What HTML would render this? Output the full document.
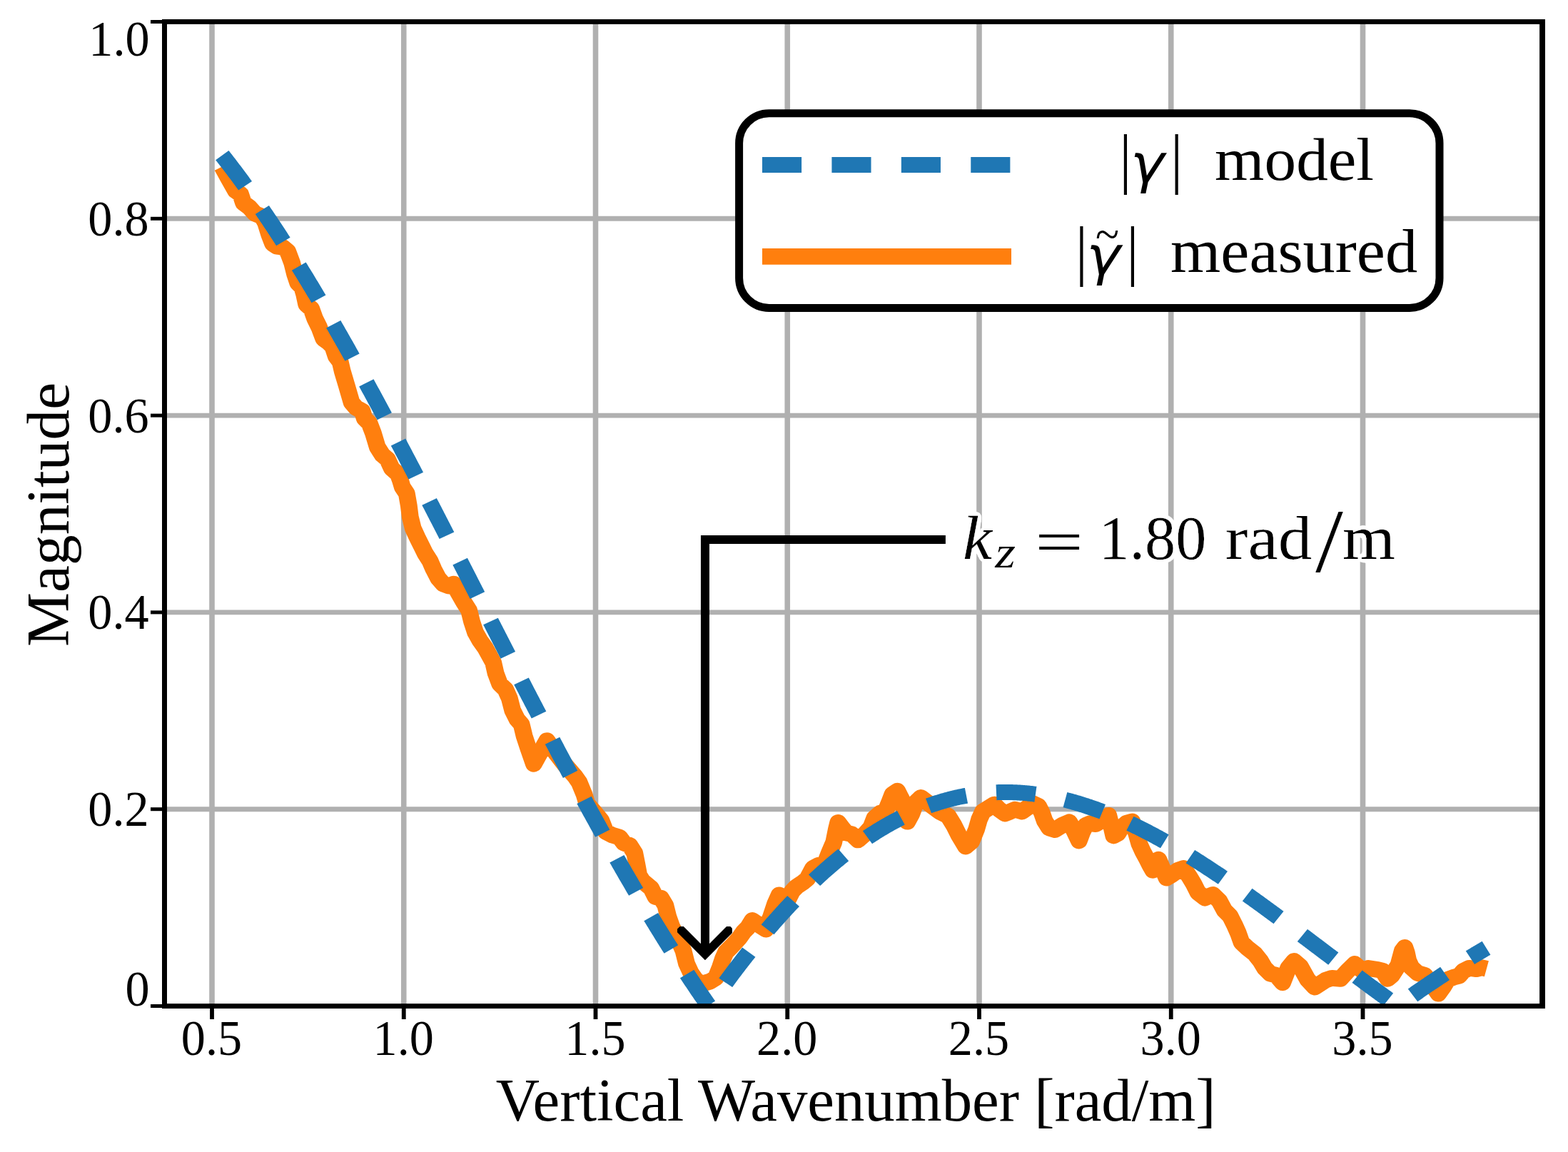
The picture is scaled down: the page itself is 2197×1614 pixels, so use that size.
<!DOCTYPE html>
<html lang="en"><head><meta charset="utf-8"><title>Coherence magnitude vs vertical wavenumber</title>
<style>
html,body{margin:0;padding:0;background:#fff;}
body{width:2197px;height:1614px;overflow:hidden;}
svg{display:block;}
text{font-family:"Liberation Serif","DejaVu Serif",serif;fill:#000;}
.it{font-style:italic;}
.gm{font-family:"DejaVu Sans","Liberation Sans",sans-serif;font-style:oblique;}
</style></head><body>
<svg width="2197" height="1614" viewBox="0 0 2197 1614">
<rect x="0" y="0" width="2197" height="1614" fill="#ffffff"/>
<defs><filter id="halo" x="-5%" y="-30%" width="110%" height="160%"><feGaussianBlur in="SourceAlpha" stdDeviation="3.4" result="b"/><feComponentTransfer in="b" result="t"><feFuncA type="linear" slope="60" intercept="-1.5"/></feComponentTransfer><feFlood flood-color="#ffffff" result="w"/><feComposite in="w" in2="t" operator="in" result="h"/><feMerge><feMergeNode in="h"/><feMergeNode in="SourceGraphic"/></feMerge></filter><clipPath id="axclip"><rect x="230.5" y="30.5" width="1930.5" height="1379"/></clipPath></defs>
<g id="grid" stroke="#b0b0b0" fill="none">
<line x1="297" y1="30.5" x2="297" y2="1409.5" stroke-width="7.6"/>
<line x1="565.75" y1="30.5" x2="565.75" y2="1409.5" stroke-width="7.6"/>
<line x1="834.5" y1="30.5" x2="834.5" y2="1409.5" stroke-width="7.6"/>
<line x1="1103.25" y1="30.5" x2="1103.25" y2="1409.5" stroke-width="7.6"/>
<line x1="1372" y1="30.5" x2="1372" y2="1409.5" stroke-width="7.6"/>
<line x1="1640.75" y1="30.5" x2="1640.75" y2="1409.5" stroke-width="7.6"/>
<line x1="1909.5" y1="30.5" x2="1909.5" y2="1409.5" stroke-width="7.6"/>
<line x1="230.5" y1="1133.7" x2="2161" y2="1133.7" stroke-width="6.9"/>
<line x1="230.5" y1="857.9" x2="2161" y2="857.9" stroke-width="6.9"/>
<line x1="230.5" y1="582.1" x2="2161" y2="582.1" stroke-width="6.9"/>
<line x1="230.5" y1="306.3" x2="2161" y2="306.3" stroke-width="6.9"/>
</g>
<g id="curves" clip-path="url(#axclip)" fill="none">
<g transform="scale(1.0434 1)">
<polyline id="measured" points="298.26,233.5 307.65,251.2 316.37,267.2 323.08,272.2 326.91,284.2 334.58,290.2 342.25,299.2 351.83,303.2 356.62,312.3 361.41,328.3 366.21,341.3 371.96,345.3 379.62,346.3 386.43,352.3 392.18,368.3 396.01,384.4 399.85,396.4 405.6,402.4 408.47,412.4 411.35,426.4 418.06,432.4 422.85,446.4 428.6,458.5 434.35,474.5 441.06,479.5 446.81,485.5 451.12,499 456.87,507 459.75,520 465.5,540.1 472.21,564.1 477.96,571.1 486.58,576.1 489.46,586.1 496.17,593.2 500.96,606.2 506.71,626.2 513.42,637.2 520.22,643.2 525.97,656.2 534.6,664.3 537.47,672.3 540.35,682.3 546.1,691.3 548.97,708.3 550.89,724.3 554.72,740.4 560.48,753.4 567.18,767.4 570.73,775 577.44,786 582.23,797.5 588.53,810.07 595.25,818.08 602.93,821.08 609.26,818.08 615.4,830.1 622.51,843.11 629.8,855.13 633.64,871.15 638.44,886.17 644.19,896.79 651.87,908.2 662.43,928.23 665.69,943.25 671.07,958.27 678.74,965.88 684.12,978.3 688.34,995.32 694.48,1007.94 700.24,1014.75 704.08,1031.37 709.46,1048.39 716.75,1070.22 734.41,1037.58 747.47,1056.48 759.18,1072.1 772.04,1087.52 777.8,1096.13 784.51,1113.15 788.16,1125.77 798.53,1138.19 807.16,1149.2 813.31,1165.23 822.52,1170.23 832.12,1173.24 837.87,1181.25 845.55,1184.25 852.27,1195.27 855.15,1210.29 858.03,1226.31 862.83,1234.32 874.34,1244.33 880.1,1256.35 887.78,1258.35 893.54,1268.37 897.38,1284.39 902.17,1298.41 910.48,1315 917.67,1332 921.99,1350 927.74,1363 934.45,1373 942.11,1378.5 953.61,1375 961.28,1370 967.03,1355 970.86,1343 974.7,1334 982.4,1325.98 992.95,1313.96 998.71,1305.35 1004.47,1299.34 1010.23,1289.53 1019.83,1296.34 1028.46,1302.14 1035.18,1284.32 1040.94,1266.29 1046.32,1253.88 1052.46,1258.28 1057.26,1262.29 1063.97,1248.27 1069.73,1242.26 1078.37,1236.25 1084.13,1231.25 1091.81,1216.23 1099.48,1212.22 1108.12,1209.22 1113.88,1194.2 1119.64,1180.18 1123.09,1162.15 1125.4,1152.34 1131.15,1160.15 1136.91,1167.16 1143.63,1168.56 1152.27,1176.97 1161.86,1168.16 1169.54,1159.15 1174.34,1146.13 1182.02,1139.12 1188.74,1138.12 1193.54,1126.1 1198.33,1113.09 1205.05,1108.28 1210.81,1120.1 1214.65,1136.12 1218.49,1151.14 1224.25,1140.12 1230,1124.1 1236.72,1117.29 1250.16,1128.11 1261.67,1137.12 1273.19,1143.13 1280.87,1156.14 1287.59,1170.16 1293.35,1180.18 1296.74,1186.01 1304.42,1179.2 1311.13,1162.18 1314.97,1148.16 1319.77,1137.15 1327.45,1132.14 1335.13,1127.13 1341.85,1134.14 1349.52,1139.95 1356.24,1137.15 1362.96,1134.14 1372.56,1136.95 1380.23,1131.14 1387.91,1126.13 1394.63,1129.54 1398.85,1138.15 1402.88,1150.16 1409.03,1160.18 1416.7,1162.58 1426.3,1156.17 1435.9,1151.77 1442.62,1164.18 1448.95,1178 1453.17,1166.19 1457.97,1156.17 1463.73,1153.77 1471.41,1154.57 1480.04,1149.16 1488.68,1142.35 1492.52,1158.17 1495.4,1170.99 1501.16,1167.59 1505.96,1159.58 1512.67,1153.17 1520.35,1150.96 1526.11,1168.19 1529.95,1182.21 1534.75,1193.22 1540.51,1204.24 1544.35,1212.25 1548.18,1219.26 1552.02,1210.25 1555.86,1204.24 1561.62,1218.26 1566.42,1230.07 1574.1,1225.27 1581.77,1219.26 1589.45,1216.45 1597.13,1228.27 1602.89,1238.28 1608.65,1250.3 1618.24,1258.11 1624,1255.31 1628.8,1253.5 1637.44,1262.32 1644.16,1275.33 1651.83,1283.35 1657.59,1295.36 1662.77,1307.38 1667.19,1320.4 1674.29,1327.41 1684.93,1336.28 1692.6,1346.29 1698.36,1356.31 1706.04,1364.32 1713.72,1366.32 1722.35,1376.74 1730.03,1356.31 1737.71,1346.5 1746.35,1354.31 1755.94,1372.33 1765.54,1383.15 1779.94,1373.33 1788.58,1370.33 1800.09,1371.33 1809.69,1360.31 1819.29,1350.5 1829.84,1360.31 1837.52,1356.51 1850,1358.51 1856.71,1360.31 1863.43,1371.33 1869.19,1366.32 1877.83,1352.3 1883.01,1332.28 1886.47,1327.47 1888.77,1334.28 1891.26,1346.29 1895.49,1355.71 1903.74,1363.32 1913.34,1366.32 1921.02,1376.34 1931.57,1392.16 1938.29,1382.34 1944.05,1372.33 1951.73,1369.33 1959.4,1367.32 1965.16,1360.31 1972.84,1356.31 1982.44,1357.71 1990.12,1355.71 1996.26,1357.31" stroke="#ff7f0e" stroke-width="22.8" stroke-linejoin="round" stroke-linecap="butt"/>
<polyline id="model" points="298.33,217.54 299.74,219.41 301.16,221.29 302.57,223.18 303.99,225.07 305.4,226.98 306.82,228.89 308.23,230.81 309.65,232.73 311.06,234.67 312.47,236.61 313.89,238.56 315.3,240.52 316.72,242.49 318.13,244.46 319.55,246.45 320.96,248.43 322.38,250.43 323.79,252.44 325.21,254.45 326.62,256.47 328.04,258.5 329.45,260.53 330.87,262.57 332.28,264.62 333.69,266.68 335.11,268.74 336.52,270.82 337.94,272.89 339.35,274.98 340.77,277.08 342.18,279.18 343.6,281.28 345.01,283.4 346.43,285.52 347.84,287.65 349.26,289.79 350.67,291.93 352.08,294.08 353.5,296.24 354.91,298.41 356.33,300.58 357.74,302.76 359.16,304.94 360.57,307.13 361.99,309.33 363.4,311.54 364.82,313.75 366.23,315.97 367.65,318.2 369.06,320.43 370.48,322.67 371.89,324.92 373.3,327.17 374.72,329.43 376.13,331.69 377.55,333.97 378.96,336.25 380.38,338.53 381.79,340.82 383.21,343.12 384.62,345.42 386.04,347.74 387.45,350.05 388.87,352.38 390.28,354.71 391.69,357.04 393.11,359.38 394.52,361.73 395.94,364.09 397.35,366.45 398.77,368.81 400.18,371.18 401.6,373.56 403.01,375.95 404.43,378.34 405.84,380.73 407.26,383.13 408.67,385.54 410.09,387.95 411.5,390.37 412.91,392.8 414.33,395.23 415.74,397.66 417.16,400.11 418.57,402.55 419.99,405.01 421.4,407.46 422.82,409.93 424.23,412.4 425.65,414.87 427.06,417.35 428.48,419.84 429.89,422.33 431.3,424.82 432.72,427.33 434.13,429.83 435.55,432.34 436.96,434.86 438.38,437.38 439.79,439.91 441.21,442.44 442.62,444.98 444.04,447.52 445.45,450.07 446.87,452.62 448.28,455.18 449.7,457.74 451.11,460.3 452.52,462.88 453.94,465.45 455.35,468.03 456.77,470.62 458.18,473.21 459.6,475.8 461.01,478.4 462.43,481.01 463.84,483.61 465.26,486.23 466.67,488.84 468.09,491.47 469.5,494.09 470.91,496.72 472.33,499.36 473.74,501.99 475.16,504.64 476.57,507.29 477.99,509.94 479.4,512.59 480.82,515.25 482.23,517.92 483.65,520.58 485.06,523.26 486.48,525.93 487.89,528.61 489.31,531.29 490.72,533.98 492.13,536.67 493.55,539.37 494.96,542.07 496.38,544.77 497.79,547.47 499.21,550.18 500.62,552.9 502.04,555.61 503.45,558.33 504.87,561.06 506.28,563.79 507.7,566.52 509.11,569.25 510.52,571.99 511.94,574.73 513.35,577.47 514.77,580.22 516.18,582.97 517.6,585.72 519.01,588.48 520.43,591.24 521.84,594 523.26,596.77 524.67,599.54 526.09,602.31 527.5,605.08 528.92,607.86 530.33,610.64 531.74,613.43 533.16,616.21 534.57,619 535.99,621.79 537.4,624.59 538.82,627.38 540.23,630.18 541.65,632.99 543.06,635.79 544.48,638.6 545.89,641.41 547.31,644.22 548.72,647.03 550.13,649.85 551.55,652.67 552.96,655.49 554.38,658.31 555.79,661.14 557.21,663.97 558.62,666.8 560.04,669.63 561.45,672.46 562.87,675.3 564.28,678.14 565.7,680.98 567.11,683.82 568.53,686.66 569.94,689.51 571.35,692.35 572.77,695.2 574.18,698.05 575.6,700.91 577.01,703.76 578.43,706.62 579.84,709.47 581.26,712.33 582.67,715.19 584.09,718.05 585.5,720.92 586.92,723.78 588.33,726.65 589.74,729.52 591.16,732.38 592.57,735.25 593.99,738.12 595.4,741 596.82,743.87 598.23,746.74 599.65,749.62 601.06,752.5 602.48,755.37 603.89,758.25 605.31,761.13 606.72,764.01 608.14,766.89 609.55,769.78 610.96,772.66 612.38,775.54 613.79,778.43 615.21,781.31 616.62,784.2 618.04,787.08 619.45,789.97 620.87,792.86 622.28,795.74 623.7,798.63 625.11,801.52 626.53,804.41 627.94,807.3 629.35,810.19 630.77,813.08 632.18,815.97 633.6,818.86 635.01,821.75 636.43,824.64 637.84,827.53 639.26,830.42 640.67,833.31 642.09,836.2 643.5,839.09 644.92,841.98 646.33,844.87 647.75,847.76 649.16,850.65 650.57,853.54 651.99,856.43 653.4,859.32 654.82,862.21 656.23,865.1 657.65,867.98 659.06,870.87 660.48,873.76 661.89,876.65 663.31,879.53 664.72,882.42 666.14,885.3 667.55,888.19 668.96,891.07 670.38,893.95 671.79,896.83 673.21,899.71 674.62,902.6 676.04,905.47 677.45,908.35 678.87,911.23 680.28,914.11 681.7,916.98 683.11,919.86 684.53,922.73 685.94,925.6 687.36,928.47 688.77,931.34 690.18,934.21 691.6,937.08 693.01,939.95 694.43,942.81 695.84,945.67 697.26,948.54 698.67,951.4 700.09,954.26 701.5,957.11 702.92,959.97 704.33,962.82 705.75,965.68 707.16,968.53 708.57,971.38 709.99,974.23 711.4,977.07 712.82,979.92 714.23,982.76 715.65,985.6 717.06,988.44 718.48,991.27 719.89,994.11 721.31,996.94 722.72,999.77 724.14,1002.6 725.55,1005.43 726.97,1008.25 728.38,1011.08 729.79,1013.9 731.21,1016.72 732.62,1019.53 734.04,1022.34 735.45,1025.16 736.87,1027.97 738.28,1030.77 739.7,1033.58 741.11,1036.38 742.53,1039.18 743.94,1041.97 745.36,1044.77 746.77,1047.56 748.18,1050.35 749.6,1053.14 751.01,1055.92 752.43,1058.7 753.84,1061.48 755.26,1064.25 756.67,1067.03 758.09,1069.8 759.5,1072.56 760.92,1075.33 762.33,1078.09 763.75,1080.85 765.16,1083.6 766.58,1086.35 767.99,1089.1 769.4,1091.85 770.82,1094.59 772.23,1097.33 773.65,1100.07 775.06,1102.8 776.48,1105.53 777.89,1108.26 779.31,1110.98 780.72,1113.7 782.14,1116.42 783.55,1119.13 784.97,1121.84 786.38,1124.55 787.79,1127.25 789.21,1129.95 790.62,1132.65 792.04,1135.34 793.45,1138.03 794.87,1140.71 796.28,1143.39 797.7,1146.07 799.11,1148.75 800.53,1151.42 801.94,1154.08 803.36,1156.74 804.77,1159.4 806.19,1162.06 807.6,1164.71 809.01,1167.35 810.43,1170 811.84,1172.64 813.26,1175.27 814.67,1177.9 816.09,1180.53 817.5,1183.15 818.92,1185.77 820.33,1188.38 821.75,1190.99 823.16,1193.6 824.58,1196.2 825.99,1198.8 827.4,1201.39 828.82,1203.98 830.23,1206.56 831.65,1209.14 833.06,1211.72 834.48,1214.29 835.89,1216.86 837.31,1219.42 838.72,1221.98 840.14,1224.53 841.55,1227.08 842.97,1229.62 844.38,1232.16 845.8,1234.69 847.21,1237.22 848.62,1239.75 850.04,1242.27 851.45,1244.78 852.87,1247.29 854.28,1249.8 855.7,1252.3 857.11,1254.79 858.53,1257.28 859.94,1259.77 861.36,1262.25 862.77,1264.73 864.19,1267.2 865.6,1269.66 867.01,1272.12 868.43,1274.58 869.84,1277.03 871.26,1279.48 872.67,1281.92 874.09,1284.35 875.5,1286.78 876.92,1289.2 878.33,1291.62 879.75,1294.04 881.16,1296.45 882.58,1298.85 883.99,1301.25 885.41,1303.64 886.82,1306.03 888.23,1308.41 889.65,1310.78 891.06,1313.15 892.48,1315.52 893.89,1317.88 895.31,1320.23 896.72,1322.58 898.14,1324.92 899.55,1327.26 900.97,1329.59 902.38,1331.92 903.8,1334.24 905.21,1336.55 906.62,1338.86 908.04,1341.16 909.45,1343.46 910.87,1345.75 912.28,1348.03 913.7,1350.31 915.11,1352.59 916.53,1354.85 917.94,1357.11 919.36,1359.37 920.77,1361.62 922.19,1363.86 923.6,1366.1 925.02,1368.33 926.43,1370.56 927.84,1372.78 929.26,1374.99 930.67,1377.2 932.09,1379.4 933.5,1381.59 934.92,1383.78 936.33,1385.96 937.75,1388.14 939.16,1390.31 940.58,1392.47 941.99,1394.63 943.41,1396.78 944.82,1398.92 946.23,1401.06 947.65,1403.19 949.06,1405.32 950.48,1407.44 951.89,1409.45 953.31,1407.34 954.72,1405.24 956.14,1403.15 957.55,1401.06 958.97,1398.98 960.38,1396.91 961.8,1394.84 963.21,1392.78 964.63,1390.73 966.04,1388.68 967.45,1386.64 968.87,1384.61 970.28,1382.58 971.7,1380.56 973.11,1378.55 974.53,1376.54 975.94,1374.54 977.36,1372.55 978.77,1370.56 980.19,1368.58 981.6,1366.61 983.02,1364.64 984.43,1362.68 985.84,1360.73 987.26,1358.78 988.67,1356.84 990.09,1354.91 991.5,1352.99 992.92,1351.07 994.33,1349.16 995.75,1347.25 997.16,1345.36 998.58,1343.47 999.99,1341.58 1001.41,1339.71 1002.82,1337.84 1004.24,1335.98 1005.65,1334.12 1007.06,1332.27 1008.48,1330.43 1009.89,1328.6 1011.31,1326.77 1012.72,1324.95 1014.14,1323.14 1015.55,1321.34 1016.97,1319.54 1018.38,1317.75 1019.8,1315.96 1021.21,1314.19 1022.63,1312.42 1024.04,1310.66 1025.45,1308.9 1026.87,1307.16 1028.28,1305.42 1029.7,1303.68 1031.11,1301.96 1032.53,1300.24 1033.94,1298.53 1035.36,1296.83 1036.77,1295.13 1038.19,1293.44 1039.6,1291.76 1041.02,1290.09 1042.43,1288.42 1043.84,1286.76 1045.26,1285.11 1046.67,1283.47 1048.09,1281.83 1049.5,1280.2 1050.92,1278.58 1052.33,1276.97 1053.75,1275.36 1055.16,1273.76 1056.58,1272.17 1057.99,1270.59 1059.41,1269.01 1060.82,1267.44 1062.24,1265.88 1063.65,1264.33 1065.06,1262.78 1066.48,1261.24 1067.89,1259.71 1069.31,1258.19 1070.72,1256.68 1072.14,1255.17 1073.55,1253.67 1074.97,1252.17 1076.38,1250.69 1077.8,1249.21 1079.21,1247.74 1080.63,1246.28 1082.04,1244.83 1083.45,1243.38 1084.87,1241.94 1086.28,1240.51 1087.7,1239.09 1089.11,1237.67 1090.53,1236.26 1091.94,1234.86 1093.36,1233.47 1094.77,1232.08 1096.19,1230.71 1097.6,1229.34 1099.02,1227.98 1100.43,1226.62 1101.85,1225.28 1103.26,1223.94 1104.67,1222.61 1106.09,1221.29 1107.5,1219.97 1108.92,1218.66 1110.33,1217.37 1111.75,1216.07 1113.16,1214.79 1114.58,1213.52 1115.99,1212.25 1117.41,1210.99 1118.82,1209.74 1120.24,1208.49 1121.65,1207.25 1123.06,1206.03 1124.48,1204.81 1125.89,1203.59 1127.31,1202.39 1128.72,1201.19 1130.14,1200 1131.55,1198.82 1132.97,1197.65 1134.38,1196.48 1135.8,1195.32 1137.21,1194.17 1138.63,1193.03 1140.04,1191.9 1141.46,1190.77 1142.87,1189.65 1144.28,1188.54 1145.7,1187.44 1147.11,1186.35 1148.53,1185.26 1149.94,1184.18 1151.36,1183.11 1152.77,1182.05 1154.19,1180.99 1155.6,1179.94 1157.02,1178.91 1158.43,1177.87 1159.85,1176.85 1161.26,1175.84 1162.67,1174.83 1164.09,1173.83 1165.5,1172.84 1166.92,1171.85 1168.33,1170.88 1169.75,1169.91 1171.16,1168.95 1172.58,1168 1173.99,1167.05 1175.41,1166.12 1176.82,1165.19 1178.24,1164.27 1179.65,1163.36 1181.07,1162.45 1182.48,1161.56 1183.89,1160.67 1185.31,1159.79 1186.72,1158.91 1188.14,1158.05 1189.55,1157.19 1190.97,1156.34 1192.38,1155.5 1193.8,1154.67 1195.21,1153.84 1196.63,1153.02 1198.04,1152.21 1199.46,1151.41 1200.87,1150.62 1202.28,1149.83 1203.7,1149.05 1205.11,1148.28 1206.53,1147.52 1207.94,1146.77 1209.36,1146.02 1210.77,1145.28 1212.19,1144.55 1213.6,1143.83 1215.02,1143.11 1216.43,1142.41 1217.85,1141.71 1219.26,1141.01 1220.68,1140.33 1222.09,1139.65 1223.5,1138.99 1224.92,1138.33 1226.33,1137.67 1227.75,1137.03 1229.16,1136.39 1230.58,1135.76 1231.99,1135.14 1233.41,1134.53 1234.82,1133.92 1236.24,1133.32 1237.65,1132.73 1239.07,1132.15 1240.48,1131.58 1241.89,1131.01 1243.31,1130.45 1244.72,1129.9 1246.14,1129.35 1247.55,1128.82 1248.97,1128.29 1250.38,1127.77 1251.8,1127.26 1253.21,1126.75 1254.63,1126.25 1256.04,1125.76 1257.46,1125.28 1258.87,1124.81 1260.29,1124.34 1261.7,1123.88 1263.11,1123.43 1264.53,1122.99 1265.94,1122.55 1267.36,1122.12 1268.77,1121.7 1270.19,1121.29 1271.6,1120.88 1273.02,1120.48 1274.43,1120.09 1275.85,1119.71 1277.26,1119.33 1278.68,1118.96 1280.09,1118.6 1281.5,1118.25 1282.92,1117.9 1284.33,1117.57 1285.75,1117.24 1287.16,1116.91 1288.58,1116.6 1289.99,1116.29 1291.41,1115.99 1292.82,1115.69 1294.24,1115.41 1295.65,1115.13 1297.07,1114.86 1298.48,1114.6 1299.9,1114.34 1301.31,1114.09 1302.72,1113.85 1304.14,1113.62 1305.55,1113.39 1306.97,1113.17 1308.38,1112.96 1309.8,1112.75 1311.21,1112.56 1312.63,1112.36 1314.04,1112.18 1315.46,1112.01 1316.87,1111.84 1318.29,1111.68 1319.7,1111.52 1321.11,1111.38 1322.53,1111.24 1323.94,1111.1 1325.36,1110.98 1326.77,1110.86 1328.19,1110.75 1329.6,1110.65 1331.02,1110.55 1332.43,1110.46 1333.85,1110.38 1335.26,1110.3 1336.68,1110.23 1338.09,1110.17 1339.51,1110.12 1340.92,1110.07 1342.33,1110.03 1343.75,1110 1345.16,1109.97 1346.58,1109.95 1347.99,1109.94 1349.41,1109.94 1350.82,1109.94 1352.24,1109.95 1353.65,1109.96 1355.07,1109.98 1356.48,1110.01 1357.9,1110.05 1359.31,1110.09 1360.72,1110.14 1362.14,1110.2 1363.55,1110.26 1364.97,1110.33 1366.38,1110.41 1367.8,1110.49 1369.21,1110.58 1370.63,1110.68 1372.04,1110.78 1373.46,1110.89 1374.87,1111.01 1376.29,1111.13 1377.7,1111.26 1379.12,1111.4 1380.53,1111.54 1381.94,1111.69 1383.36,1111.85 1384.77,1112.01 1386.19,1112.18 1387.6,1112.36 1389.02,1112.54 1390.43,1112.73 1391.85,1112.92 1393.26,1113.13 1394.68,1113.33 1396.09,1113.55 1397.51,1113.77 1398.92,1114 1400.33,1114.23 1401.75,1114.47 1403.16,1114.72 1404.58,1114.97 1405.99,1115.23 1407.41,1115.5 1408.82,1115.77 1410.24,1116.05 1411.65,1116.33 1413.07,1116.62 1414.48,1116.92 1415.9,1117.22 1417.31,1117.53 1418.73,1117.84 1420.14,1118.16 1421.55,1118.49 1422.97,1118.82 1424.38,1119.16 1425.8,1119.51 1427.21,1119.86 1428.63,1120.21 1430.04,1120.58 1431.46,1120.95 1432.87,1121.32 1434.29,1121.7 1435.7,1122.09 1437.12,1122.48 1438.53,1122.88 1439.94,1123.28 1441.36,1123.69 1442.77,1124.11 1444.19,1124.53 1445.6,1124.96 1447.02,1125.39 1448.43,1125.83 1449.85,1126.27 1451.26,1126.72 1452.68,1127.18 1454.09,1127.64 1455.51,1128.1 1456.92,1128.58 1458.34,1129.05 1459.75,1129.54 1461.16,1130.03 1462.58,1130.52 1463.99,1131.02 1465.41,1131.53 1466.82,1132.04 1468.24,1132.55 1469.65,1133.07 1471.07,1133.6 1472.48,1134.13 1473.9,1134.67 1475.31,1135.21 1476.73,1135.76 1478.14,1136.31 1479.55,1136.87 1480.97,1137.44 1482.38,1138.01 1483.8,1138.58 1485.21,1139.16 1486.63,1139.74 1488.04,1140.33 1489.46,1140.93 1490.87,1141.53 1492.29,1142.13 1493.7,1142.74 1495.12,1143.35 1496.53,1143.97 1497.95,1144.6 1499.36,1145.23 1500.77,1145.86 1502.19,1146.5 1503.6,1147.14 1505.02,1147.79 1506.43,1148.45 1507.85,1149.1 1509.26,1149.77 1510.68,1150.44 1512.09,1151.11 1513.51,1151.78 1514.92,1152.47 1516.34,1153.15 1517.75,1153.84 1519.16,1154.54 1520.58,1155.24 1521.99,1155.94 1523.41,1156.65 1524.82,1157.37 1526.24,1158.09 1527.65,1158.81 1529.07,1159.54 1530.48,1160.27 1531.9,1161 1533.31,1161.74 1534.73,1162.49 1536.14,1163.24 1537.56,1163.99 1538.97,1164.75 1540.38,1165.51 1541.8,1166.27 1543.21,1167.04 1544.63,1167.82 1546.04,1168.6 1547.46,1169.38 1548.87,1170.17 1550.29,1170.96 1551.7,1171.75 1553.12,1172.55 1554.53,1173.35 1555.95,1174.16 1557.36,1174.97 1558.77,1175.78 1560.19,1176.6 1561.6,1177.42 1563.02,1178.25 1564.43,1179.08 1565.85,1179.91 1567.26,1180.75 1568.68,1181.59 1570.09,1182.44 1571.51,1183.28 1572.92,1184.14 1574.34,1184.99 1575.75,1185.85 1577.17,1186.71 1578.58,1187.58 1579.99,1188.45 1581.41,1189.33 1582.82,1190.2 1584.24,1191.08 1585.65,1191.97 1587.07,1192.85 1588.48,1193.75 1589.9,1194.64 1591.31,1195.54 1592.73,1196.44 1594.14,1197.34 1595.56,1198.25 1596.97,1199.16 1598.38,1200.07 1599.8,1200.99 1601.21,1201.91 1602.63,1202.83 1604.04,1203.76 1605.46,1204.69 1606.87,1205.62 1608.29,1206.56 1609.7,1207.5 1611.12,1208.44 1612.53,1209.38 1613.95,1210.33 1615.36,1211.28 1616.78,1212.24 1618.19,1213.19 1619.6,1214.15 1621.02,1215.11 1622.43,1216.08 1623.85,1217.04 1625.26,1218.01 1626.68,1218.99 1628.09,1219.96 1629.51,1220.94 1630.92,1221.92 1632.34,1222.9 1633.75,1223.89 1635.17,1224.88 1636.58,1225.87 1637.99,1226.86 1639.41,1227.86 1640.82,1228.86 1642.24,1229.86 1643.65,1230.86 1645.07,1231.87 1646.48,1232.88 1647.9,1233.89 1649.31,1234.9 1650.73,1235.91 1652.14,1236.93 1653.56,1237.95 1654.97,1238.97 1656.39,1239.99 1657.8,1241.02 1659.21,1242.05 1660.63,1243.08 1662.04,1244.11 1663.46,1245.14 1664.87,1246.18 1666.29,1247.22 1667.7,1248.26 1669.12,1249.3 1670.53,1250.34 1671.95,1251.39 1673.36,1252.44 1674.78,1253.49 1676.19,1254.54 1677.6,1255.59 1679.02,1256.64 1680.43,1257.7 1681.85,1258.76 1683.26,1259.82 1684.68,1260.88 1686.09,1261.94 1687.51,1263.01 1688.92,1264.07 1690.34,1265.14 1691.75,1266.21 1693.17,1267.28 1694.58,1268.35 1696,1269.43 1697.41,1270.5 1698.82,1271.58 1700.24,1272.66 1701.65,1273.74 1703.07,1274.82 1704.48,1275.9 1705.9,1276.98 1707.31,1278.07 1708.73,1279.15 1710.14,1280.24 1711.56,1281.33 1712.97,1282.41 1714.39,1283.5 1715.8,1284.6 1717.21,1285.69 1718.63,1286.78 1720.04,1287.87 1721.46,1288.97 1722.87,1290.07 1724.29,1291.16 1725.7,1292.26 1727.12,1293.36 1728.53,1294.46 1729.95,1295.56 1731.36,1296.66 1732.78,1297.76 1734.19,1298.87 1735.61,1299.97 1737.02,1301.07 1738.43,1302.18 1739.85,1303.28 1741.26,1304.39 1742.68,1305.5 1744.09,1306.6 1745.51,1307.71 1746.92,1308.82 1748.34,1309.93 1749.75,1311.04 1751.17,1312.15 1752.58,1313.26 1754,1314.37 1755.41,1315.48 1756.82,1316.59 1758.24,1317.71 1759.65,1318.82 1761.07,1319.93 1762.48,1321.04 1763.9,1322.15 1765.31,1323.27 1766.73,1324.38 1768.14,1325.49 1769.56,1326.61 1770.97,1327.72 1772.39,1328.84 1773.8,1329.95 1775.22,1331.06 1776.63,1332.18 1778.04,1333.29 1779.46,1334.4 1780.87,1335.52 1782.29,1336.63 1783.7,1337.75 1785.12,1338.86 1786.53,1339.97 1787.95,1341.08 1789.36,1342.2 1790.78,1343.31 1792.19,1344.42 1793.61,1345.53 1795.02,1346.65 1796.43,1347.76 1797.85,1348.87 1799.26,1349.98 1800.68,1351.09 1802.09,1352.2 1803.51,1353.31 1804.92,1354.42 1806.34,1355.53 1807.75,1356.63 1809.17,1357.74 1810.58,1358.85 1812,1359.95 1813.41,1361.06 1814.83,1362.17 1816.24,1363.27 1817.65,1364.37 1819.07,1365.48 1820.48,1366.58 1821.9,1367.68 1823.31,1368.78 1824.73,1369.88 1826.14,1370.98 1827.56,1372.08 1828.97,1373.18 1830.39,1374.27 1831.8,1375.37 1833.22,1376.46 1834.63,1377.56 1836.04,1378.65 1837.46,1379.74 1838.87,1380.83 1840.29,1381.92 1841.7,1383.01 1843.12,1384.1 1844.53,1385.18 1845.95,1386.27 1847.36,1387.35 1848.78,1388.44 1850.19,1389.52 1851.61,1390.6 1853.02,1391.68 1854.44,1392.76 1855.85,1393.83 1857.26,1394.91 1858.68,1395.98 1860.09,1397.06 1861.51,1398.13 1862.92,1399.2 1864.34,1400.27 1865.75,1401.33 1867.17,1402.4 1868.58,1403.46 1870,1404.53 1871.41,1405.59 1872.83,1406.65 1874.24,1407.71 1875.65,1408.76 1877.07,1409.18 1878.48,1408.13 1879.9,1407.08 1881.31,1406.03 1882.73,1404.98 1884.14,1403.93 1885.56,1402.89 1886.97,1401.84 1888.39,1400.8 1889.8,1399.76 1891.22,1398.72 1892.63,1397.69 1894.04,1396.65 1895.46,1395.62 1896.87,1394.59 1898.29,1393.56 1899.7,1392.54 1901.12,1391.51 1902.53,1390.49 1903.95,1389.47 1905.36,1388.45 1906.78,1387.43 1908.19,1386.42 1909.61,1385.4 1911.02,1384.39 1912.44,1383.39 1913.85,1382.38 1915.26,1381.37 1916.68,1380.37 1918.09,1379.37 1919.51,1378.38 1920.92,1377.38 1922.34,1376.39 1923.75,1375.4 1925.17,1374.41 1926.58,1373.42 1928,1372.44 1929.41,1371.45 1930.83,1370.47 1932.24,1369.5 1933.65,1368.52 1935.07,1367.55 1936.48,1366.58 1937.9,1365.61 1939.31,1364.65 1940.73,1363.68 1942.14,1362.72 1943.56,1361.77 1944.97,1360.81 1946.39,1359.86 1947.8,1358.91 1949.22,1357.96 1950.63,1357.02 1952.05,1356.07 1953.46,1355.13 1954.87,1354.2 1956.29,1353.26 1957.7,1352.33 1959.12,1351.4 1960.53,1350.47 1961.95,1349.55 1963.36,1348.63 1964.78,1347.71 1966.19,1346.8 1967.61,1345.88 1969.02,1344.97 1970.44,1344.07 1971.85,1343.16 1973.26,1342.26 1974.68,1341.36 1976.09,1340.47 1977.51,1339.57 1978.92,1338.68 1980.34,1337.8 1981.75,1336.91 1983.17,1336.03 1984.58,1335.15 1986,1334.28 1987.41,1333.41 1988.83,1332.54 1990.24,1331.67 1991.66,1330.81 1993.07,1329.95 1994.48,1329.09 1995.9,1328.24" stroke="#1f77b4" stroke-width="22" stroke-dasharray="52.81 40.56" stroke-linejoin="round" stroke-linecap="butt"/>
</g>
</g>
<g id="annotation">
<clipPath id="headclip"><rect x="949" y="1297.9" width="76.85" height="80"/></clipPath>
<path d="M1324.9 756.1 L987.95 756.1 L987.95 1336.66" fill="none" stroke="#000" stroke-width="12" stroke-linejoin="miter"/>
<path clip-path="url(#headclip)" d="M950.95 1299.66 L987.95 1336.66 L1024.95 1299.66" fill="none" stroke="#000" stroke-width="12" stroke-linejoin="miter" stroke-linecap="butt"/>
<g filter="url(#halo)">
<text class="s it" transform="translate(1349.04 783) scale(1.0729 1)" font-size="85.9">k</text>
<text class="s it" transform="translate(1394.14 795.4) scale(1.1743 1)" font-size="63.26">z</text>
<text class="s" transform="translate(1449.97 788.45) scale(1.4431 1)" font-size="83.6">=</text>
<text class="s" transform="translate(1539.46 783) scale(0.9919 1)" font-size="86.92">1.80</text>
<text class="s" transform="translate(1716.8 783) scale(1.1068 1)" font-size="86">rad<tspan x="114.03" dy="18.43" font-size="126.72">/</tspan><tspan x="148.45" dy="-18.43" font-size="86">m</tspan></text>
</g>
</g>
<g id="axes" fill="#000">
<rect x="211" y="1407" width="19" height="5"/>
<rect x="211" y="1131.2" width="19" height="5"/>
<rect x="211" y="855.4" width="19" height="5"/>
<rect x="211" y="579.6" width="19" height="5"/>
<rect x="211" y="303.8" width="19" height="5"/>
<rect x="211" y="28" width="19" height="5"/>
<rect x="294.1" y="1409.5" width="5.8" height="18.5"/>
<rect x="562.85" y="1409.5" width="5.8" height="18.5"/>
<rect x="831.6" y="1409.5" width="5.8" height="18.5"/>
<rect x="1100.35" y="1409.5" width="5.8" height="18.5"/>
<rect x="1369.1" y="1409.5" width="5.8" height="18.5"/>
<rect x="1637.85" y="1409.5" width="5.8" height="18.5"/>
<rect x="1906.6" y="1409.5" width="5.8" height="18.5"/>
<rect x="227" y="27" width="7" height="1386"/>
<rect x="2157.1" y="27" width="7.9" height="1386"/>
<rect x="227" y="27" width="1938" height="6.9"/>
<rect x="227" y="1406.1" width="1938" height="6.9"/>
</g>
<g id="ticklabels">
<text text-anchor="middle" transform="translate(296.4 1478) scale(0.966 1)" font-size="70.6">0.5</text>
<text text-anchor="middle" transform="translate(565.15 1478) scale(0.966 1)" font-size="70.6">1.0</text>
<text text-anchor="middle" transform="translate(833.9 1478) scale(0.966 1)" font-size="70.6">1.5</text>
<text text-anchor="middle" transform="translate(1102.65 1478) scale(0.966 1)" font-size="70.6">2.0</text>
<text text-anchor="middle" transform="translate(1371.4 1478) scale(0.966 1)" font-size="70.6">2.5</text>
<text text-anchor="middle" transform="translate(1640.15 1478) scale(0.966 1)" font-size="70.6">3.0</text>
<text text-anchor="middle" transform="translate(1908.9 1478) scale(0.966 1)" font-size="70.6">3.5</text>
<text text-anchor="end" transform="translate(208.6 1157.2) scale(0.966 1)" font-size="70.6">0.2</text>
<text text-anchor="end" transform="translate(208.6 881.4) scale(0.966 1)" font-size="70.6">0.4</text>
<text text-anchor="end" transform="translate(208.6 605.6) scale(0.966 1)" font-size="70.6">0.6</text>
<text text-anchor="end" transform="translate(208.6 329.8) scale(0.966 1)" font-size="70.6">0.8</text>
<text text-anchor="end" transform="translate(209.6 78.1) scale(0.966 1)" font-size="70.6">1.0</text>
<text text-anchor="end" transform="translate(209.6 1408.9) scale(0.966 1)" font-size="70.6">0</text>
</g>
<text text-anchor="middle" x="1199.1" y="1569.8" font-size="84.8">Vertical Wavenumber [rad/m]</text>
<text text-anchor="middle" transform="translate(95.5 720.9) rotate(-90)" font-size="85.4">Magnitude</text>
<g id="legend">
<rect x="1035.6" y="158.7" width="981.4" height="272.7" rx="42" ry="42" fill="#fff" stroke="#000" stroke-width="11"/>
<g transform="scale(1.0434 1)">
<line x1="1023.58" y1="231" x2="1357.58" y2="231" stroke="#1f77b4" stroke-width="22" stroke-dasharray="52.81 40.56"/>
<line x1="1023.58" y1="359.4" x2="1358.06" y2="359.4" stroke="#ff7f0e" stroke-width="22.8"/>
</g>
<text class="s" transform="translate(1568.6 252.87) scale(0.8972 1)" font-size="93.63">|</text>
<text class="gm" transform="translate(1583.85 254.61) scale(1.0882 1)" font-size="74.17">γ</text>
<text class="s" transform="translate(1640.2 252.87) scale(0.8972 1)" font-size="93.63">|</text>
<text class="s" transform="translate(1702.12 252.2) scale(1.0475 1)" font-size="85.18">model</text>
<text class="s" transform="translate(1506.9 381.97) scale(0.8972 1)" font-size="93.63">|</text>
<text class="gm" transform="translate(1522.15 383.71) scale(1.0882 1)" font-size="74.17">γ</text>
<text class="s" transform="translate(1535.02 349.7) scale(0.9644 1)" font-size="63.28">~</text>
<text class="s" transform="translate(1578.5 381.97) scale(0.8972 1)" font-size="93.63">|</text>
<text class="s" transform="translate(1640.09 381.2) scale(1.0424 1)" font-size="86.62">measured</text>
</g>
</svg>
</body></html>
